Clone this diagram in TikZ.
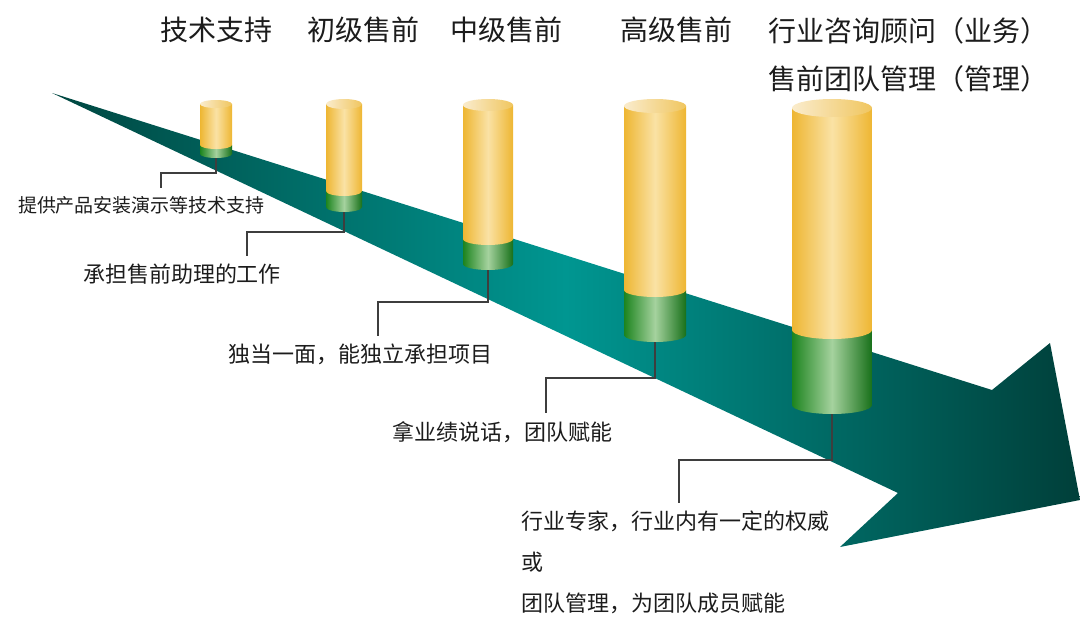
\documentclass[tikz,border=0pt]{standalone}
\usepackage{fontspec}
\setmainfont{Noto Sans CJK SC}
\definecolor{arrowdark}{RGB}{0,70,64}
\definecolor{arrowmid}{RGB}{0,150,145}
\definecolor{goldedge}{RGB}{238,182,50}
\definecolor{goldlight}{RGB}{250,226,165}
\definecolor{capleft}{RGB}{250,236,205}
\definecolor{capright}{RGB}{240,198,95}
\definecolor{greenedge}{RGB}{28,132,30}
\definecolor{greenlight}{RGB}{165,210,158}
\definecolor{inkgray}{RGB}{28,28,28}
\def\pillar#1#2#3#4#5#6#7{%
  \shade[left color=greenedge,right color=greenedge!85!black,middle color=greenlight]
    ({#1-#5},#3) -- ({#1-#5},#4) arc[start angle=180,end angle=360,x radius=#5pt,y radius=#6pt] -- ({#1+#5},#3) -- cycle;
  \shade[left color=goldedge,right color=goldedge,middle color=goldlight]
    ({#1-#5},#2) -- ({#1-#5},#3) arc[start angle=180,end angle=360,x radius=#5pt,y radius=#6pt] -- ({#1+#5},#2) -- cycle;
  \shade[left color=capleft,right color=capright] (#1,#2) ellipse[x radius=#5pt,y radius=#6pt];
  \coordinate (#7) at (#1,{#4+#6});
}

\begin{document}
\begin{tikzpicture}[x=1pt,y=-1pt,
    leader/.style={draw=inkgray!85,line width=1.2pt},
    note/.style={text=inkgray,inner sep=0pt,outer sep=8pt,font=\fontsize{22}{41}\selectfont},
    rank/.style={text=inkgray,inner sep=0pt,anchor=west,font=\fontsize{28}{48}\selectfont}]
    \useasboundingbox (0,0) rectangle (1080,629);
    \shade[left color=arrowdark,right color=arrowdark!90!black,middle color=arrowmid]
        (52,93) -- (992,390) -- (1050,343) -- (1080,500) -- (840,547) -- (898,493) -- cycle;
    \pillar{216}{104}{145}{154}{16}{4}{p1}
    \pillar{344}{104}{191}{207}{18}{5}{p2}
    \pillar{488}{105}{239}{264}{25}{6}{p3}
    \pillar{655}{106}{290}{335}{31}{7}{p4}
    \pillar{832}{108}{330}{405}{40}{9}{p5}

    \node[rank] (r1) at (160,30) {技术支持};
    \node[rank] (r2) at (307,30) {初级售前};
    \node[rank] (r3) at (450,30) {中级售前};
    \node[rank] (r4) at (620,30) {高级售前};
    \node[rank,anchor=north west,align=left] (r5) at (768,17) {行业咨询顾问（业务）\\售前团队管理（管理）};

    \node[note,anchor=west,font=\fontsize{19}{24}\selectfont] (t1) at (10,205) {提供产品安装演示等技术支持};
    \node[note,anchor=west] (t2) at (75,274) {承担售前助理的工作};
    \node[note,anchor=west] (t3) at (220,354) {独当一面，能独立承担项目};
    \node[note,anchor=west] (t4) at (384,432) {拿业绩说话，团队赋能};
    \node[note,anchor=north west,align=left] (t5) at (513,503) {行业专家，行业内有一定的权威\\或\\团队管理，为团队成员赋能};

    \coordinate (k1) at (161,173);
    \coordinate (k2) at (247,232);
    \coordinate (k3) at (378,302);
    \coordinate (k4) at (546,378);
    \coordinate (k5) at (679,460);
    \draw[leader] (p1) |- (k1) -- (k1 |- t1.north);
    \draw[leader] (p2) |- (k2) -- (k2 |- t2.north);
    \draw[leader] (p3) |- (k3) -- (k3 |- t3.north);
    \draw[leader] (p4) |- (k4) -- (k4 |- t4.north);
    \draw[leader] (p5) |- (k5) -- (k5 |- t5.north);
\end{tikzpicture}
\end{document}
